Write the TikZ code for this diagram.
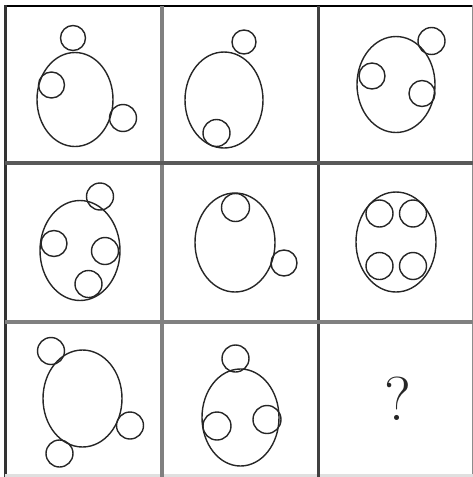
\documentclass[tikz,border=0pt]{standalone}
\begin{document}
\begin{tikzpicture}[x=1pt,y=-1pt,
    ring/.style={line width=1.4pt, black!85},
    rule dark/.style={line width=3pt, black!75},
    rule light/.style={line width=3.5pt, black!50}]
    \useasboundingbox (0,0) rectangle (473,477);
    % Frame
    \draw[line width=2pt, black] (4,6) -- (473,6);
    \draw[line width=2.5pt, black!80] (5.3,5) -- (5.3,477);
    \draw[line width=1pt, black!45] (472,5) -- (472,477);
    \draw[line width=3pt, black!12] (5,475.5) -- (473,475.5);
    % Grid lines
    \draw[rule light] (162,6) -- (162,477);
    \draw[rule dark] (318,6) -- (318,477);
    \draw[rule dark, black!65, line width=3.5pt] (5,163) -- (473,163);
    \draw[rule light, line width=4pt] (5,322) -- (473,322);
    % Row 1
    \draw[ring] (75,99.5) ellipse [x radius=38, y radius=47];
    \draw[ring] (73,38) circle [radius=12.5];
    \draw[ring] (51.5,85) circle [radius=13];
    \draw[ring] (123,118) circle [radius=13.5];
    \draw[ring] (224,100) ellipse [x radius=39, y radius=48];
    \draw[ring] (244,42) circle [radius=12];
    \draw[ring] (216.5,133) circle [radius=13.5];
    \draw[ring] (396,84.5) ellipse [x radius=39, y radius=48];
    \draw[ring] (431.5,41) circle [radius=13.5];
    \draw[ring] (372,76) circle [radius=13];
    \draw[ring] (422,93.5) circle [radius=13];
    % Row 2
    \draw[ring] (80,250.5) ellipse [x radius=40, y radius=50];
    \draw[ring] (100,196.5) circle [radius=13.5];
    \draw[ring] (54,243.5) circle [radius=13];
    \draw[ring] (105,251) circle [radius=13.5];
    \draw[ring] (88.5,284) circle [radius=13.5];
    \draw[ring] (235,242.5) ellipse [x radius=40, y radius=49.5];
    \draw[ring] (235.5,207.5) circle [radius=14];
    \draw[ring] (284,263) circle [radius=13];
    \draw[ring] (396,242) ellipse [x radius=40, y radius=50];
    \foreach \cx/\cy in {379.5/213.5, 413/213.5, 379.5/266, 413/266}
        \draw[ring] (\cx,\cy) circle [radius=13.5];
    % Row 3
    \draw[ring] (82.5,398.5) ellipse [x radius=39.5, y radius=48.5];
    \draw[ring] (51,351) circle [radius=13.5];
    \draw[ring] (130,425.5) circle [radius=13.5];
    \draw[ring] (59.5,453.5) circle [radius=13.5];
    \draw[ring] (240.5,417.5) ellipse [x radius=38.5, y radius=48.5];
    \draw[ring] (235.5,358.5) circle [radius=13.5];
    \draw[ring] (217,426) circle [radius=14];
    \draw[ring] (267,419.5) circle [radius=14];
    % Missing cell
    \node[inner sep=0pt, text=black!85] (query) at (398,399) {\fontsize{62}{62}\selectfont ?};
\end{tikzpicture}
\end{document}
